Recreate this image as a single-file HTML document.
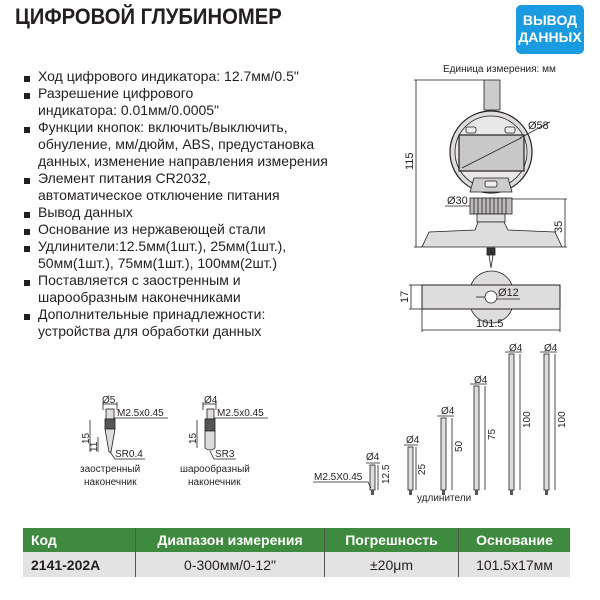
<!DOCTYPE html>
<html><head><meta charset="utf-8"><style>
body{margin:0;width:600px;height:600px;background:#fff;position:relative;font-family:"Liberation Sans",sans-serif;overflow:hidden}
.t{position:absolute;left:15px;top:4px;font-size:22px;font-weight:bold;color:#231f20;transform:scaleX(0.92);transform-origin:left}
.badge{position:absolute;left:516px;top:5px;width:68px;height:49px;background:#1a9be0;border-radius:5px;color:#fff;font-weight:bold;font-size:14px;line-height:17px;text-align:center;padding-top:7px;box-sizing:border-box}
ul{position:absolute;left:22px;top:68px;margin:0;padding:0;list-style:none;font-size:14px;line-height:17px;color:#231f20}
li{position:relative;padding-left:16px}
li:before{content:"";position:absolute;left:2px;top:8px;width:6px;height:6px;background:#231f20}
table{position:absolute;left:23px;top:528px;width:547px;border-collapse:collapse;font-size:14px}
th{background:#3e8a3e;color:#fff;height:24px;text-align:center;padding:0}
td{background:#e3e3e3;height:25px;text-align:center;color:#231f20;padding:0}
th+th,td+td{border-left:1px solid #555}
</style></head><body>
<div class="t">ЦИФРОВОЙ ГЛУБИНОМЕР</div>
<div class="badge">ВЫВОД<br>ДАННЫХ</div>
<ul>
<li>Ход цифрового индикатора: 12.7мм/0.5"</li>
<li>Разрешение цифрового<br>индикатора: 0.01мм/0.0005"</li>
<li>Функции кнопок: включить/выключить,<br>обнуление, мм/дюйм, ABS, предустановка<br>данных, изменение направления измерения</li>
<li>Элемент питания CR2032,<br>автоматическое отключение питания</li>
<li>Вывод данных</li>
<li>Основание из нержавеющей стали</li>
<li>Удлинители:12.5мм(1шт.), 25мм(1шт.),<br>50мм(1шт.), 75мм(1шт.), 100мм(2шт.)</li>
<li>Поставляется с заостренным и<br>шарообразным наконечниками</li>
<li>Дополнительные принадлежности:<br>устройства для обработки данных</li>
</ul>
<svg width="600" height="600" style="position:absolute;left:0;top:0" font-family="Liberation Sans, sans-serif" fill="none" stroke="#231f20" stroke-width="0.8">
<text x="443" y="72" font-size="10" fill="#231f20" stroke="none">Единица измерения: мм</text>
<rect x="484" y="80" width="16" height="30" fill="#ccc"/>
<circle cx="491" cy="152" r="41" fill="#ddd" stroke-width="1.2"/>
<circle cx="491" cy="152" r="36" fill="#e8e8e8"/>
<rect x="459" y="135" width="65" height="36" fill="#c8c8c8" stroke-width="1.2"/>
<line x1="462" y1="168" x2="521" y2="138"/>
<line x1="520" y1="138" x2="550" y2="122"/>
<text x="528" y="129" font-size="11" fill="#231f20" stroke="none">Ø58</text>
<rect x="466" y="127" width="10" height="6" rx="2" fill="#eee"/>
<rect x="505" y="127" width="10" height="6" rx="2" fill="#eee"/>
<path d="M474 178 L508 178 L512 192 L470 192 Z" fill="#ccc"/>
<rect x="485" y="181" width="12" height="6" rx="2" fill="#eee"/>
<rect x="470" y="198" width="42" height="16" fill="#bbb"/>
<path d="M474 198v16M478 198v16M482 198v16M486 198v16M490 198v16M494 198v16M498 198v16M502 198v16M506 198v16"/>
<rect x="477" y="214" width="28" height="8" fill="#ddd"/>
<path d="M478 222 L504 222 L508 230 L555 232 L562 247 L422 247 L429 232 L475 230 Z" fill="#ddd"/>
<text x="447" y="204" font-size="11" fill="#231f20" stroke="none">Ø30</text>
<line x1="445" y1="206" x2="470" y2="206"/>
<rect x="487" y="248" width="8" height="7" fill="#333"/>
<path d="M489 255 L491 268 L493 255"/>
<line x1="416" y1="80" x2="416" y2="247"/><line x1="414" y1="80" x2="484" y2="80"/><line x1="414" y1="247" x2="422" y2="247"/>
<text transform="translate(413,170) rotate(-90)" font-size="11" fill="#231f20" stroke="none">115</text>
<line x1="565" y1="199" x2="565" y2="247"/><line x1="512" y1="199" x2="567" y2="199"/><line x1="562" y1="247" x2="567" y2="247"/>
<text transform="translate(562,233) rotate(-90)" font-size="11" fill="#231f20" stroke="none">35</text>
<path d="M471 285 A22 22 0 0 1 512 285" fill="#ddd"/>
<path d="M471 309 A22 22 0 0 0 512 309" fill="#ddd"/>
<rect x="422" y="285" width="138" height="24" fill="#ddd" stroke-width="1"/>
<circle cx="491" cy="297" r="6" fill="#fff"/>
<line x1="476" y1="297" x2="485" y2="297"/>
<line x1="497" y1="299" x2="520" y2="299"/>
<text x="498" y="296" font-size="11" fill="#231f20" stroke="none">Ø12</text>
<line x1="411" y1="285" x2="411" y2="309"/><line x1="409" y1="285" x2="422" y2="285"/><line x1="409" y1="309" x2="422" y2="309"/>
<text transform="translate(408,303) rotate(-90)" font-size="11" fill="#231f20" stroke="none">17</text>
<line x1="422" y1="330" x2="560" y2="330"/><line x1="422" y1="309" x2="422" y2="332"/><line x1="560" y1="309" x2="560" y2="332"/>
<text x="476" y="327" font-size="11" fill="#231f20" stroke="none">101.5</text>
<rect x="106" y="409" width="8" height="10" fill="#ddd"/>
<rect x="105" y="419" width="10" height="10" fill="#555"/>
<path d="M105 429 L115 429 L111 452 L109 452 Z" fill="#ddd"/>
<line x1="103" y1="402" x2="103" y2="410"/><line x1="117" y1="402" x2="117" y2="410"/><line x1="103" y1="404" x2="117" y2="404"/>
<text x="102" y="403" font-size="10" fill="#231f20" stroke="none">Ø5</text>
<text x="117" y="416" font-size="10" fill="#231f20" stroke="none">M2.5x0.45</text><line x1="114" y1="418" x2="168" y2="418"/>
<line x1="90" y1="420" x2="90" y2="452"/><line x1="98" y1="437" x2="98" y2="452"/>
<text transform="translate(89,444) rotate(-90)" font-size="10" fill="#231f20" stroke="none">15</text>
<text transform="translate(97,452) rotate(-90)" font-size="10" fill="#231f20" stroke="none">11</text>
<text x="115" y="457" font-size="10" fill="#231f20" stroke="none">SR0.4</text><path d="M110 452 L115 459 L145 459"/>
<text x="80" y="472" font-size="10" fill="#231f20" stroke="none">заостренный</text>
<text x="84" y="485" font-size="10" fill="#231f20" stroke="none">наконечник</text>
<rect x="207" y="409" width="7" height="10" fill="#ddd"/>
<rect x="205" y="419" width="10" height="12" fill="#555"/>
<path d="M205 431 L215 431 L215 448 Q210 452 205 448 Z" fill="#ddd"/>
<line x1="203" y1="402" x2="203" y2="410"/><line x1="216" y1="402" x2="216" y2="410"/><line x1="203" y1="404" x2="216" y2="404"/>
<text x="204" y="403" font-size="10" fill="#231f20" stroke="none">Ø4</text>
<text x="217" y="416" font-size="10" fill="#231f20" stroke="none">M2.5x0.45</text><line x1="214" y1="418" x2="268" y2="418"/>
<line x1="197" y1="420" x2="197" y2="448"/>
<text transform="translate(196,444) rotate(-90)" font-size="10" fill="#231f20" stroke="none">15</text>
<text x="215" y="457" font-size="10" fill="#231f20" stroke="none">SR3</text><path d="M210 451 L214 459 L236 459"/>
<text x="180" y="472" font-size="10" fill="#231f20" stroke="none">шарообразный</text>
<text x="188" y="485" font-size="10" fill="#231f20" stroke="none">наконечник</text>
<g fill="#ddd">
<rect x="370" y="465" width="5" height="25"/><rect x="408" y="447" width="5" height="43"/><rect x="441" y="418" width="5" height="72"/><rect x="474" y="386" width="5" height="104"/><rect x="509" y="354" width="5" height="136"/><rect x="544" y="354" width="5" height="136"/>
</g>
<g fill="#555" stroke="none">
<rect x="371" y="490" width="3" height="5"/><rect x="409" y="490" width="3" height="5"/><rect x="442" y="490" width="3" height="5"/><rect x="475" y="490" width="3" height="5"/><rect x="510" y="490" width="3" height="5"/><rect x="545" y="490" width="3" height="5"/>
</g>
<path d="M378 465v25M416 447v43M452 418v72M485 386v104M520 354v136M555 354v136"/>
<path d="M366 463h14M404 445h14M437 416h17M470 384h17M505 352h17M540 352h17"/>
<g font-size="10" fill="#231f20" stroke="none">
<text x="366" y="460">Ø4</text><text x="406" y="443">Ø4</text><text x="441" y="414">Ø4</text><text x="474" y="383">Ø4</text><text x="509" y="351">Ø4</text><text x="544" y="351">Ø4</text>
<text transform="translate(389,484) rotate(-90)">12.5</text>
<text transform="translate(425,475) rotate(-90)">25</text>
<text transform="translate(462,452) rotate(-90)">50</text>
<text transform="translate(495,440) rotate(-90)">75</text>
<text transform="translate(530,428) rotate(-90)">100</text>
<text transform="translate(565,428) rotate(-90)">100</text>
<text x="314" y="480">M2.5X0.45</text>
<text x="417" y="501">удлинители</text>
</g>
<path d="M313 482 L368 482 L371 488"/>
</svg>
<table>
<tr><th style="width:104px;text-align:left;padding-left:8px">Код</th><th style="width:188px">Диапазон измерения</th><th style="width:133px">Погрешность</th><th>Основание</th></tr>
<tr><td style="text-align:left;padding-left:8px;font-weight:bold">2141-202A</td><td>0-300мм/0-12"</td><td>±20μm</td><td>101.5x17мм</td></tr>
</table>
</body></html>
